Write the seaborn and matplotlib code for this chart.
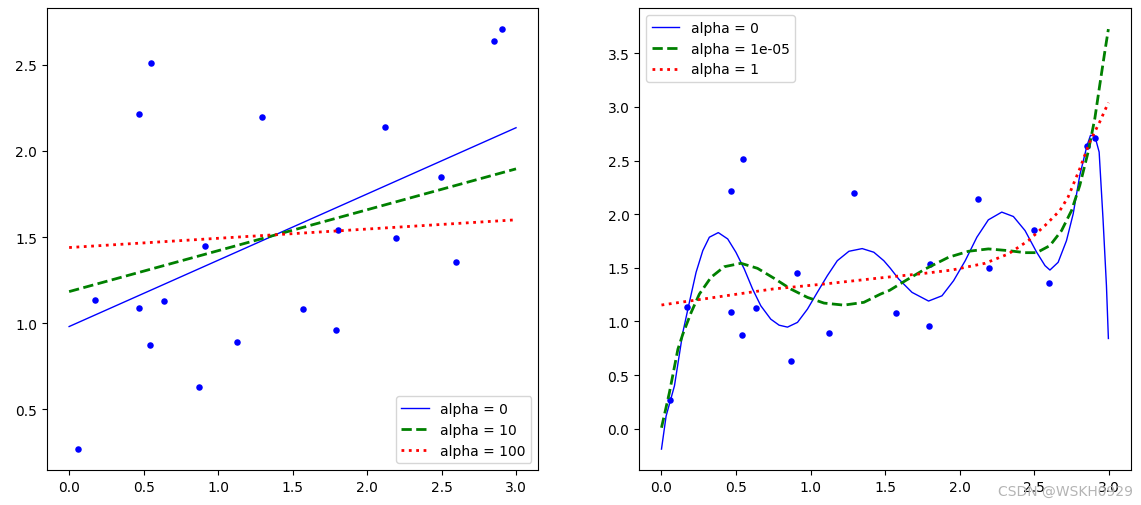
import matplotlib
matplotlib.use("Agg")
import matplotlib.pyplot as plt
import seaborn as sns

# scatter data (same in both panels)
x_pts = [0.058, 0.172, 0.467, 0.548, 0.467, 0.541, 0.635, 0.869, 0.910, 1.124,
         1.292, 1.573, 1.794, 1.804, 2.123, 2.196, 2.498, 2.599, 2.853, 2.907]
y_pts = [0.268, 1.133, 2.214, 2.510, 1.087, 0.872, 1.128, 0.628, 1.447, 0.889,
         2.197, 1.081, 0.959, 1.540, 2.139, 1.494, 1.848, 1.354, 2.638, 2.708]

# left panel: linear ridge fits
lin_x = [0.0, 3.0]
lin_a0 = [0.980, 2.135]
lin_a10 = [1.183, 1.896]
lin_a100 = [1.439, 1.600]
left_labels = ["alpha = 0", "alpha = 10", "alpha = 100"]

# right panel: polynomial ridge fits
poly_a0_x = [0.0, 0.031, 0.087, 0.143, 0.187, 0.232, 0.277, 0.321, 0.381, 0.444,
             0.499, 0.555, 0.611, 0.666, 0.733, 0.789, 0.845, 0.912, 0.979, 1.045,
             1.112, 1.179, 1.257, 1.346, 1.424, 1.491, 1.535, 1.591, 1.680, 1.791,
             1.881, 1.959, 2.037, 2.115, 2.192, 2.282, 2.360, 2.438, 2.516, 2.572,
             2.605, 2.660, 2.716, 2.761, 2.805, 2.854, 2.877, 2.906, 2.935, 2.961,
             2.984, 2.997]
poly_a0_y = [-0.19, 0.118, 0.40, 0.897, 1.178, 1.458, 1.660, 1.785, 1.828, 1.769,
             1.645, 1.489, 1.302, 1.146, 1.021, 0.965, 0.947, 0.991, 1.115, 1.271,
             1.426, 1.566, 1.654, 1.679, 1.645, 1.566, 1.495, 1.395, 1.271, 1.190,
             1.239, 1.380, 1.566, 1.785, 1.947, 2.019, 1.978, 1.847, 1.645, 1.520,
             1.479, 1.551, 1.753, 2.003, 2.361, 2.641, 2.735, 2.729, 2.579, 1.956,
             1.333, 0.841]

poly_a1e5_x = [0.0, 0.053, 0.110, 0.143, 0.199, 0.254, 0.332, 0.421, 0.533, 0.644,
               0.755, 0.867, 0.979, 1.090, 1.223, 1.357, 1.469, 1.530, 1.636, 1.769,
               1.925, 2.059, 2.192, 2.326, 2.438, 2.516, 2.605, 2.683, 2.750, 2.805,
               2.861, 2.906, 2.939, 2.973, 2.997]
poly_a1e5_y = [0.009, 0.336, 0.741, 0.881, 1.084, 1.255, 1.411, 1.510, 1.542, 1.495,
               1.402, 1.302, 1.224, 1.171, 1.152, 1.178, 1.255, 1.290, 1.380, 1.489,
               1.598, 1.654, 1.676, 1.660, 1.641, 1.641, 1.707, 1.847, 2.034, 2.267,
               2.579, 2.891, 3.202, 3.514, 3.725]

poly_a1_x = [0.0, 0.745, 1.100, 1.502, 1.725, 1.948, 2.170, 2.326, 2.460, 2.572,
             2.672, 2.727, 2.805, 2.872, 2.939, 2.997]
poly_a1_y = [1.153, 1.302, 1.350, 1.411, 1.442, 1.479, 1.542, 1.629, 1.753, 1.894,
             2.034, 2.160, 2.423, 2.673, 2.860, 3.040]
right_labels = ["alpha = 0", "alpha = 1e-05", "alpha = 1"]

styles = [("b", "-", 1), ("g", "--", 2), ("r", ":", 2)]


def draw_panel(ax, curves, labels, legend_loc):
    for (cx, cy), label, (color, ls, lw) in zip(curves, labels, styles):
        sns.lineplot(x=cx, y=cy, color=color, linestyle=ls, linewidth=lw,
                     label=label, ax=ax)
    sns.scatterplot(x=x_pts, y=y_pts, color="b", s=22, linewidth=0, ax=ax)
    ax.legend(loc=legend_loc)


fig, (ax1, ax2) = plt.subplots(1, 2, figsize=(11.41, 5.06), dpi=100)
fig.subplots_adjust(left=0.041, right=0.991, bottom=0.069, top=0.982, wspace=0.205)

draw_panel(ax1, [(lin_x, lin_a0), (lin_x, lin_a10), (lin_x, lin_a100)],
           left_labels, "lower right")
draw_panel(ax2, [(poly_a0_x, poly_a0_y), (poly_a1e5_x, poly_a1e5_y), (poly_a1_x, poly_a1_y)],
           right_labels, "upper left")

for ax in (ax1, ax2):
    ax.set_xticks([0.0, 0.5, 1.0, 1.5, 2.0, 2.5, 3.0])

# watermark, same spot as in the source image
fig.text(0.993, 0.028, "CSDN @WSKH0929", ha="right", va="center",
         color="#b4b4b4", fontsize=10)

fig.savefig("out.png", dpi=100)
